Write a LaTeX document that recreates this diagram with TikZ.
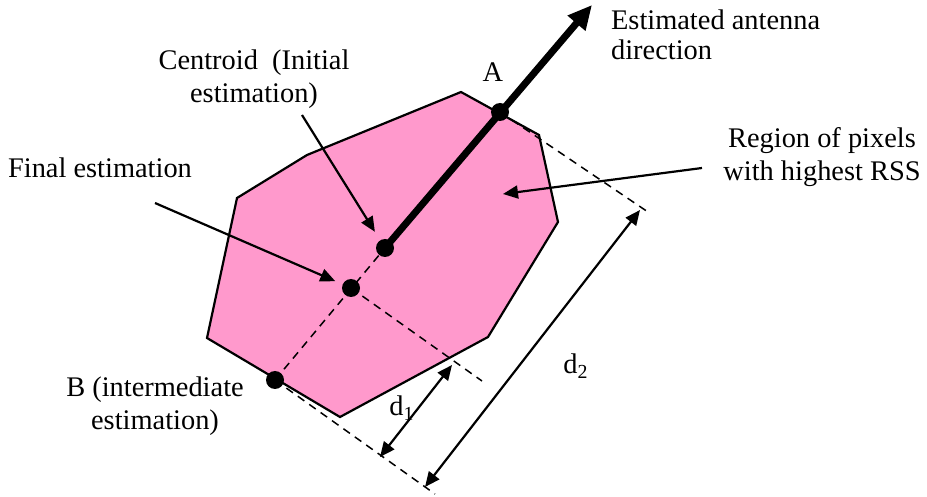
\documentclass[tikz,border=0pt]{standalone}
\usepackage{fontspec}
\setmainfont{Liberation Serif}
\usetikzlibrary{arrows.meta}
\definecolor{regionpink}{HTML}{FF99CC}

\begin{document}
\begin{tikzpicture}[x=0.5pt, y=-0.5pt, >={Triangle[length=7.5pt,width=6.5pt]}, line width=1.1pt,
	every node/.style={font=\fontsize{14.2}{16.4}\selectfont, align=center, inner sep=0pt},
	dot/.style={circle, fill=black, minimum size=9pt},
	guide/.style={dash pattern=on 4pt off 3pt, line width=0.75pt}]
	
	\useasboundingbox (0,0) rectangle (927,497);
	
	% ================= region of pixels =================
	\filldraw[fill=regionpink] (461,92) -- (539,135) -- (558,222) -- (488,337) -- (340,417)
		-- (207,338) -- (237,198) -- (307,155) -- cycle;
	
	% points on the direction line
	\coordinate (A) at (500,112);
	\coordinate (C) at (385,248);
	\coordinate (F) at (351,288);
	\coordinate (B) at (275,380);
	\coordinate (tip) at (592,5);
	
	% projections
	\coordinate (Aend) at (648,212);
	\coordinate (Fend) at (482,381);
	\coordinate (Bend) at (435,494);
	\draw[guide] (B) -- (C);
	\draw[guide] (A) -- (Aend);
	\draw[guide] (F) -- (Fend);
	\draw[guide] (B) -- (Bend);
	
	% antenna direction
	\draw[line width=3.5pt, -{Triangle[length=12pt,width=11pt]}] (C) -- (tip);
	
	\node[dot] (dA) at (A) {};
	\node[dot] (dC) at (C) {};
	\node[dot] (dF) at (F) {};
	\node[dot] (dB) at (B) {};
	
	% ================= labels =================
	\node[anchor=west, align=left, font=\fontsize{14.2}{14.8}\selectfont] (dirlabel) at (610,35) {Estimated antenna\\direction};
	\node (Alabel) at (493,72) {A};
	\node (centroid) at (254,79) {Centroid\ \ (Initial\\estimation)};
	\node (final) at (100,168) {Final estimation};
	\node (region) at (822,157) {Region of pixels\\with highest RSS};
	\node (Blabel) at (155,406) {B (intermediate\\estimation)};
	\node (d1label) at (402,408) {d\textsubscript{1}};
	\node (d2label) at (576,366) {d\textsubscript{2}};
	
	% label arrows
	\coordinate (centroidS) at (302,115);
	\coordinate (finalS) at (155,203);
	\coordinate (regionS) at (702,168);
	\coordinate (regionE) at (503,194);
	\draw[->, shorten >=4.5pt] (centroidS) -- (dC);
	\draw[->, shorten >=3.5pt] (finalS) -- (dF);
	\draw[->] (regionS) -- (regionE);
	
	% ================= distances =================
	\coordinate (d1a) at (380,457);
	\coordinate (d1b) at (452,365);
	\coordinate (d2a) at (425,487);
	\coordinate (d2b) at (640,210);
	\draw[<->] (d1a) -- (d1b);
	\draw[<->] (d2a) -- (d2b);
	
\end{tikzpicture}
\end{document}
